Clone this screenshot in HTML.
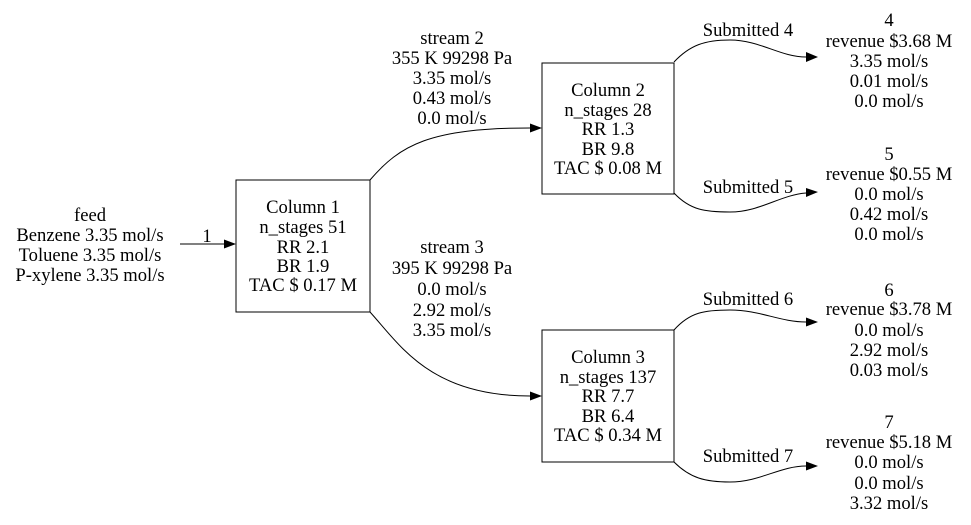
<!DOCTYPE html>
<html><head><style>body{margin:0;background:#fff}svg{display:block}text{font-family:"Liberation Serif",serif;font-size:18.6px;text-anchor:middle;fill:#000}</style></head>
<body>
<svg width="971" height="525" viewBox="0 0 971 525" xmlns="http://www.w3.org/2000/svg">
<g fill="none" stroke="#000" stroke-width="1">
<rect x="236" y="180" width="134" height="132"/>
<rect x="542" y="63" width="132" height="131"/>
<rect x="542" y="330" width="132" height="132"/>
<path d="M180,244 H224"/>
<path d="M370,180 C400,145 430,128 530,128"/>
<path d="M370,312 C400,345 430,396 530,396"/>
<path d="M674,62 C690,45 705,40 730,40 C760,40 780,57 806,57"/>
<path d="M674,193 C690,210 705,212 730,212 C760,212 780,195 806,193"/>
<path d="M674,330 C690,312 705,310 730,310 C760,310 780,322 806,322"/>
<path d="M674,462 C690,478 705,482 730,482 C760,482 780,466 806,466"/>
</g>
<g fill="#000">
<polygon points="236,244 224,239.5 224,248.5"/>
<polygon points="542,128 530,123.5 530,132.5"/>
<polygon points="542,396 530,391.5 530,400.5"/>
<polygon points="818,57 806,52 806,62"/>
<polygon points="818,192 806,188 806,197"/>
<polygon points="818,322 806,317.5 806,326.5"/>
<polygon points="818,466 806,461.5 806,470.5"/>
</g>
<text x="90" y="221">feed</text><text x="90" y="241">Benzene 3.35 mol/s</text><text x="90" y="261">Toluene 3.35 mol/s</text><text x="90" y="281">P-xylene 3.35 mol/s</text>
<text x="207" y="242">1</text>
<text x="303" y="213">Column 1</text><text x="303" y="233">n_stages 51</text><text x="303" y="253">RR 2.1</text><text x="303" y="272">BR 1.9</text><text x="303" y="291">TAC $ 0.17 M</text>
<text x="608" y="96">Column 2</text><text x="608" y="116">n_stages 28</text><text x="608" y="135">RR 1.3</text><text x="608" y="155">BR 9.8</text><text x="608" y="174">TAC $ 0.08 M</text>
<text x="608" y="363">Column 3</text><text x="608" y="383">n_stages 137</text><text x="608" y="402">RR 7.7</text><text x="608" y="422">BR 6.4</text><text x="608" y="441">TAC $ 0.34 M</text>
<text x="452" y="44">stream 2</text><text x="452" y="64">355 K 99298 Pa</text><text x="452" y="84">3.35 mol/s</text><text x="452" y="104">0.43 mol/s</text><text x="452" y="124">0.0 mol/s</text>
<text x="452" y="253">stream 3</text><text x="452" y="274">395 K 99298 Pa</text><text x="452" y="295">0.0 mol/s</text><text x="452" y="316">2.92 mol/s</text><text x="452" y="336">3.35 mol/s</text>
<text x="748" y="36">Submitted 4</text><text x="748" y="193">Submitted 5</text><text x="748" y="305">Submitted 6</text><text x="748" y="462">Submitted 7</text>
<text x="889" y="26">4</text><text x="889" y="47">revenue $3.68 M</text><text x="889" y="67">3.35 mol/s</text><text x="889" y="87">0.01 mol/s</text><text x="889" y="107">0.0 mol/s</text>
<text x="889" y="160">5</text><text x="889" y="180">revenue $0.55 M</text><text x="889" y="200">0.0 mol/s</text><text x="889" y="220">0.42 mol/s</text><text x="889" y="240">0.0 mol/s</text>
<text x="889" y="296">6</text><text x="889" y="315">revenue $3.78 M</text><text x="889" y="336">0.0 mol/s</text><text x="889" y="356">2.92 mol/s</text><text x="889" y="376">0.03 mol/s</text>
<text x="889" y="428">7</text><text x="889" y="448">revenue $5.18 M</text><text x="889" y="468">0.0 mol/s</text><text x="889" y="489">0.0 mol/s</text><text x="889" y="509">3.32 mol/s</text>
</svg>
</body></html>
